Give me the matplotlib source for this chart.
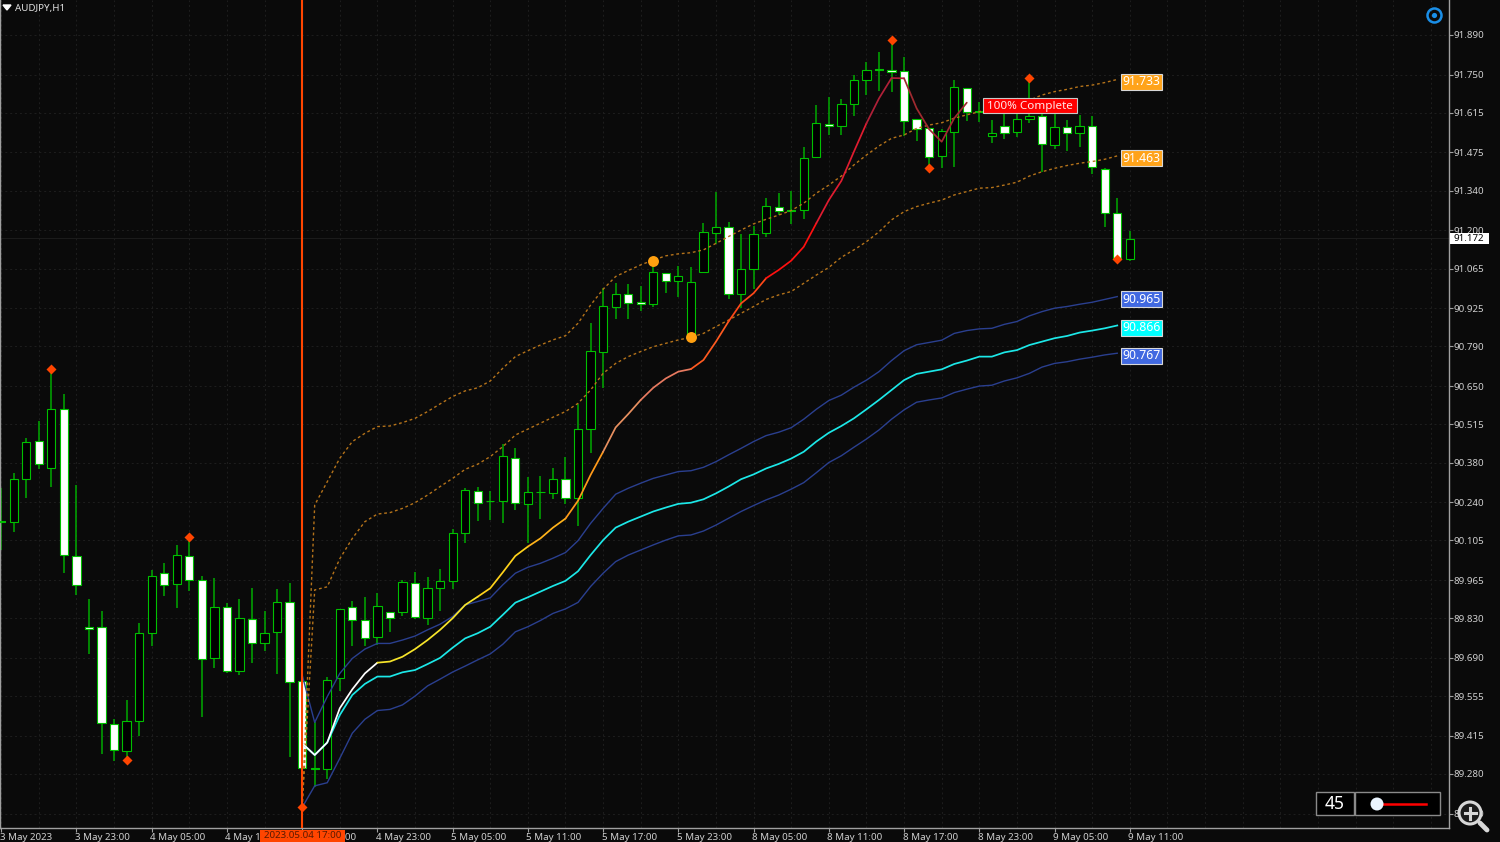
import numpy as np
import matplotlib
matplotlib.use("Agg")
import matplotlib.pyplot as plt
from matplotlib.patches import Rectangle, Circle, Polygon
from matplotlib.transforms import ScaledTranslation

plt.rcParams['font.family'] = ['Noto Sans', 'DejaVu Sans']

# AUDJPY H1 candles, one value per bar
opens = [90.173, 90.169, 90.321, 90.456, 90.359, 90.570, 90.050, 89.799, 89.800, 89.455,
         89.362, 89.466, 89.777, 89.989, 89.950, 90.050, 89.964, 89.688, 89.870, 89.642,
         89.828, 89.742, 89.781, 89.886, 89.608, 89.301, 89.296, 89.618, 89.870, 89.823,
         89.763, 89.851, 89.853, 89.953, 89.831, 89.938, 89.962, 90.130, 90.280, 90.245,
         90.243, 90.397, 90.235, 90.277, 90.274, 90.321, 90.254, 90.500, 90.772, 90.928,
         90.975, 90.947, 90.939, 91.051, 91.020, 90.822, 91.053, 91.191, 91.212, 90.975,
         91.062, 91.190, 91.284, 91.272, 91.271, 91.459, 91.576, 91.570, 91.648, 91.732,
         91.769, 91.765, 91.763, 91.592, 91.560, 91.462, 91.547, 91.704, 91.621, 91.533,
         91.570, 91.546, 91.592, 91.605, 91.503, 91.564, 91.544, 91.570, 91.418, 91.260,
         91.100]
closes = [90.169, 90.321, 90.454, 90.374, 90.570, 90.053, 89.947, 89.792, 89.459, 89.365,
          89.466, 89.777, 89.980, 89.947, 90.054, 89.964, 89.685, 89.871, 89.644, 89.832,
          89.742, 89.779, 89.888, 89.605, 89.300, 89.299, 89.613, 89.864, 89.824, 89.759,
          89.874, 89.832, 89.959, 89.836, 89.937, 89.962, 90.132, 90.282, 90.237, 90.243,
          90.403, 90.238, 90.276, 90.275, 90.321, 90.254, 90.500, 90.774, 90.932, 90.975,
          90.942, 90.940, 91.054, 91.020, 91.040, 91.016, 91.194, 91.212, 90.975, 91.064,
          91.186, 91.287, 91.270, 91.270, 91.457, 91.578, 91.570, 91.648, 91.732, 91.768,
          91.767, 91.758, 91.586, 91.557, 91.459, 91.552, 91.705, 91.617, 91.619, 91.543,
          91.544, 91.592, 91.605, 91.504, 91.564, 91.543, 91.570, 91.424, 91.260, 91.098,
          91.171]
highs = [90.291, 90.344, 90.465, 90.527, 90.710, 90.621, 90.299, 89.899, 89.854, 89.473,
         89.542, 89.813, 90.000, 90.024, 90.087, 90.118, 89.979, 89.973, 89.883, 89.899,
         89.937, 89.854, 89.934, 89.953, 89.608, 89.465, 89.624, 89.864, 89.890, 89.904,
         89.918, 89.851, 89.965, 89.993, 89.976, 90.003, 90.145, 90.289, 90.295, 90.281,
         90.446, 90.433, 90.328, 90.333, 90.361, 90.398, 90.587, 90.874, 90.995, 91.015,
         91.009, 91.002, 91.093, 91.051, 91.074, 91.071, 91.226, 91.335, 91.230, 91.187,
         91.215, 91.316, 91.333, 91.339, 91.496, 91.643, 91.670, 91.663, 91.748, 91.795,
         91.829, 91.872, 91.811, 91.592, 91.560, 91.557, 91.731, 91.704, 91.655, 91.590,
         91.613, 91.613, 91.738, 91.613, 91.613, 91.590, 91.606, 91.603, 91.420, 91.316,
         91.198]
lows = [90.071, 90.135, 90.256, 90.358, 90.295, 89.991, 89.913, 89.702, 89.349, 89.327,
        89.329, 89.415, 89.731, 89.910, 89.866, 89.927, 89.482, 89.655, 89.638, 89.628,
        89.672, 89.714, 89.634, 89.341, 89.164, 89.235, 89.261, 89.573, 89.732, 89.733,
        89.735, 89.783, 89.838, 89.827, 89.807, 89.857, 89.932, 90.095, 90.172, 90.176,
        90.165, 90.211, 90.095, 90.181, 90.250, 90.234, 90.156, 90.413, 90.642, 90.888,
        90.888, 90.914, 90.931, 90.980, 90.966, 90.813, 91.048, 91.152, 90.958, 90.926,
        90.992, 91.178, 91.253, 91.224, 91.240, 91.454, 91.538, 91.538, 91.604, 91.679,
        91.692, 91.690, 91.533, 91.517, 91.419, 91.419, 91.425, 91.587, 91.583, 91.507,
        91.524, 91.529, 91.580, 91.407, 91.489, 91.480, 91.494, 91.400, 91.213, 91.084,
        91.093]

# indicator lines, all start at the anchored bar
anchor = 24
center = [89.388, 89.347, 89.391, 89.512, 89.579, 89.635, 89.673, 89.677, 89.694, 89.721,
          89.753, 89.789, 89.830, 89.877, 89.906, 89.936, 89.992, 90.050, 90.083, 90.112,
          90.150, 90.182, 90.245, 90.336, 90.418, 90.504, 90.551, 90.601, 90.644, 90.677,
          90.701, 90.710, 90.742, 90.807, 90.878, 90.942, 90.978, 91.031, 91.060, 91.093,
          91.142, 91.225, 91.307, 91.375, 91.478, 91.578, 91.666, 91.738, 91.737, 91.631,
          91.557, 91.513, 91.596, 91.651]
mid = [89.388, 89.347, 89.391, 89.488, 89.559, 89.598, 89.624, 89.624, 89.639, 89.647,
       89.668, 89.690, 89.726, 89.759, 89.777, 89.800, 89.842, 89.885, 89.904, 89.924,
       89.944, 89.962, 89.996, 90.053, 90.106, 90.150, 90.171, 90.189, 90.207, 90.221,
       90.234, 90.238, 90.250, 90.271, 90.295, 90.321, 90.338, 90.359, 90.375, 90.394,
       90.418, 90.454, 90.485, 90.509, 90.536, 90.568, 90.601, 90.636, 90.671, 90.693,
       90.701, 90.709, 90.728, 90.740, 90.754, 90.754, 90.769, 90.777, 90.795, 90.807,
       90.819, 90.827, 90.839, 90.846, 90.854, 90.864]
upper_blue = [89.630, 89.462, 89.553, 89.635, 89.688, 89.721, 89.741, 89.741, 89.753, 89.767,
              89.789, 89.809, 89.836, 89.877, 89.889, 89.902, 89.948, 89.989, 90.010, 90.024,
              90.042, 90.062, 90.104, 90.165, 90.218, 90.268, 90.289, 90.307, 90.324, 90.336,
              90.348, 90.351, 90.363, 90.383, 90.407, 90.430, 90.454, 90.475, 90.487, 90.503,
              90.533, 90.568, 90.599, 90.618, 90.646, 90.671, 90.701, 90.740, 90.775, 90.796,
              90.804, 90.812, 90.836, 90.846, 90.852, 90.854, 90.868, 90.878, 90.898, 90.913,
              90.925, 90.931, 90.939, 90.946, 90.956, 90.966]
lower_blue = [89.162, 89.238, 89.249, 89.335, 89.424, 89.473, 89.504, 89.508, 89.524, 89.555,
              89.591, 89.615, 89.640, 89.661, 89.683, 89.704, 89.738, 89.782, 89.800, 89.822,
              89.847, 89.863, 89.886, 89.942, 89.989, 90.030, 90.053, 90.071, 90.089, 90.106,
              90.121, 90.124, 90.138, 90.159, 90.183, 90.207, 90.228, 90.248, 90.265, 90.286,
              90.309, 90.344, 90.380, 90.404, 90.434, 90.463, 90.495, 90.533, 90.566, 90.593,
              90.601, 90.608, 90.627, 90.639, 90.650, 90.653, 90.668, 90.679, 90.695, 90.717,
              90.730, 90.736, 90.745, 90.752, 90.760, 90.766]
upper_orange = [89.162, 90.230, 90.312, 90.395, 90.454, 90.483, 90.507, 90.509, 90.521, 90.536,
                90.560, 90.587, 90.613, 90.633, 90.644, 90.668, 90.713, 90.754, 90.775, 90.795,
                90.813, 90.828, 90.872, 90.936, 90.992, 91.037, 91.058, 91.078, 91.095, 91.110,
                91.117, 91.121, 91.131, 91.154, 91.178, 91.201, 91.223, 91.239, 91.254, 91.270,
                91.296, 91.331, 91.360, 91.392, 91.431, 91.466, 91.498, 91.525, 91.537, 91.560,
                91.572, 91.580, 91.596, 91.608, 91.619, 91.631, 91.639, 91.649, 91.660, 91.678,
                91.690, 91.698, 91.708, 91.713, 91.722, 91.733]
lower_orange = [89.162, 89.930, 89.941, 90.040, 90.112, 90.171, 90.198, 90.203, 90.218, 90.238,
                90.265, 90.295, 90.324, 90.356, 90.374, 90.401, 90.436, 90.477, 90.498, 90.519,
                90.540, 90.560, 90.589, 90.636, 90.695, 90.730, 90.754, 90.772, 90.789, 90.801,
                90.813, 90.822, 90.836, 90.860, 90.883, 90.907, 90.931, 90.956, 90.972, 90.984,
                91.013, 91.042, 91.069, 91.105, 91.131, 91.160, 91.195, 91.237, 91.266, 91.284,
                91.296, 91.307, 91.325, 91.337, 91.349, 91.351, 91.360, 91.370, 91.392, 91.407,
                91.419, 91.429, 91.437, 91.443, 91.451, 91.463]

# signal markers
diamond_idx = [4, 10, 15, 24, 71, 74, 82, 89]
diamond_px = [90.710, 89.329, 90.118, 89.164, 91.872, 91.419, 91.738, 91.098]
dot_idx = [52, 55]
dot_px = [91.093, 90.822]

# right hand level tags
tag_text = ['91.733', '91.463', '90.965', '90.866', '90.767']
tag_px = [91.733, 91.463, 90.966, 90.864, 90.766]
tag_col = ['#ffa31a', '#ffa31a', '#4169e1', '#00ffff', '#4169e1']

last_price = 91.172

price_ticks = [91.890, 91.750, 91.615, 91.475, 91.340, 91.200, 91.065, 90.925, 90.790, 90.650,
               90.515, 90.380, 90.240, 90.105, 89.965, 89.830, 89.690, 89.555, 89.415, 89.280,
               89.140]
date_idx = list(range(0, 91, 6))
date_labels = ['3 May 2023', '3 May 23:00', '4 May 05:00', '4 May 11:00', '4 May 17:00',
               '4 May 23:00', '5 May 05:00', '5 May 11:00', '5 May 17:00', '5 May 23:00',
               '8 May 05:00', '8 May 11:00', '8 May 17:00', '8 May 23:00', '9 May 05:00',
               '9 May 11:00']

# colour of the center line, as (number of segments, colour)
center_runs = [(6, '#ffffff'), (8, '#f7e52a'), (4, '#ffd21a'), (3, '#ffb31a'), (3, '#ff9a1a'),
               (3, '#e89060'), (4, '#e87a60'), (3, '#ff5a20'), (3, '#ff4818'), (4, '#ff1010'),
               (4, '#e01c30'), (3, '#b02038'), (5, '#a02a30')]

BG = '#0a0a0a'
GREEN = '#00aa00'
AXIS = '#a0a0a0'
TXT = '#cfcfcf'

fig = plt.figure(figsize=(15, 8.42), dpi=100, facecolor=BG)
ax = fig.add_axes([0, 14 / 842, 1449 / 1500, 828 / 842], facecolor=BG)
ax.set_xlim(-0.0957, 115.455)
ax.set_ylim(89.0891, 92.0136)

ax.set_xticks(date_idx)
ax.set_xticklabels(date_labels, ha='left', fontsize=7, color=TXT)
ax.set_xticks(np.arange(0, 116, 3), minor=True)
ax.yaxis.tick_right()
ax.set_yticks(price_ticks)
ax.set_yticklabels([f'{p:.3f}' for p in price_ticks], fontsize=7, color=TXT)
ax.tick_params(axis='both', which='major', color=AXIS, length=3, width=0.8, pad=0.5)
ax.tick_params(axis='x', which='minor', length=0)
# date labels sit a touch left of their tick
shift = ScaledTranslation(-1.5 / 100, 0, fig.dpi_scale_trans)
for lab in ax.get_xticklabels():
    lab.set_transform(lab.get_transform() + shift)
ax.grid(True, which='both', color='#1e1e1e', lw=0.7, linestyle=(0, (2, 3)))
ax.set_axisbelow(True)
ax.spines['top'].set_visible(False)
for name in ['left', 'right', 'bottom']:
    ax.spines[name].set_color(AXIS)
    ax.spines[name].set_linewidth(1.0)

ax.axhline(last_price, color='#1c1c1c', lw=0.7, zorder=1)

# candles
idx = np.arange(len(opens))
o = np.array(opens)
c = np.array(closes)
ax.vlines(idx, lows, highs, color=GREEN, lw=1.1, zorder=2)
faces = ['white' if cl < op else 'black' for op, cl in zip(opens, closes)]
ax.bar(idx, np.abs(c - o), bottom=np.minimum(o, c), width=0.66, color=faces,
       edgecolor='#00c000', linewidth=0.8, zorder=3)

# indicator lines
for vals, col, lw in [(upper_blue, '#2a3f8f', 1.0), (lower_blue, '#2a3f8f', 1.0), (mid, '#1ce8e8', 1.25)]:
    ax.plot(np.arange(anchor, anchor + len(vals)), vals, color=col, lw=lw, zorder=4)
for vals in (upper_orange, lower_orange):
    ax.plot(np.arange(anchor, anchor + len(vals)), vals, color='#b5731a', lw=1.0,
            linestyle=(0, (2, 2)), zorder=4)

seg = 0
for n, col in center_runs:
    xs = np.arange(anchor + seg, anchor + seg + n + 1)
    ax.plot(xs, center[seg:seg + n + 1], color=col, lw=1.25, zorder=5, solid_capstyle='round')
    seg += n

ax.axvline(anchor, color='#ff4500', lw=1.5, zorder=6)
ax.scatter(diamond_idx, diamond_px, marker='D', s=26, color='#ff4500', zorder=7, linewidths=0)
ax.scatter(dot_idx, dot_px, marker='o', s=62, color='#ffa010', zorder=7, linewidths=0)

for txt, p, col in zip(tag_text, tag_px, tag_col):
    ax.annotate(txt, xy=(89, p), xytext=(5, -2.5), textcoords='offset pixels', va='center', ha='left',
                fontsize=8.8, color='white', zorder=8,
                bbox=dict(boxstyle='square,pad=0.12', fc=col, ec='#d8d8d8', lw=0.8))

# screen overlay in pixels for the terminal widgets
ui = fig.add_axes([0, 0, 1, 1], facecolor='none')
ui.set_xlim(0, 1500)
ui.set_ylim(842, 0)
ui.axis('off')

ui.add_patch(Polygon([(3, 5), (11, 5), (7, 10)], color='white'))
ui.text(15, 8.5, 'AUDJPY,H1', fontsize=7, color='#e0e0e0', va='center', ha='left')

# date box on the time axis
ui.add_patch(Rectangle((260, 830), 85, 12, fc='#ff4500', ec='none'))
ui.text(302.5, 836, '2023.05.04 17:00', fontsize=7, color='#5a1a00', va='center', ha='center')

# last price tag
ui.add_patch(Rectangle((1450, 233), 39, 11, fc='white', ec='none'))
ui.text(1453, 238.5, f'{last_price:.3f}', fontsize=7, color='black', va='center', ha='left')

ui.add_patch(Rectangle((983, 98), 94, 15, fc='#ff0000', ec='#c8c8c8', lw=0.8, zorder=5))
ui.text(1030, 106, '100% Complete', fontsize=8.4, color='#ffe8e8', va='center', ha='center', zorder=6)

# target button
ui.add_patch(Circle((1434.5, 15.5), 7, fc='none', ec='#1a8fe8', lw=1.8))
ui.add_patch(Circle((1434.5, 15.5), 2.6, fc='#1a8fe8', ec='none'))

# zoom slider
ui.add_patch(Rectangle((1316, 792), 38, 23, fc='black', ec='#8a8a8a', lw=1.0))
ui.add_patch(Rectangle((1355, 792), 85, 23, fc='black', ec='#8a8a8a', lw=1.0))
ui.text(1335, 804, '45', fontsize=12.6, color='white', va='center', ha='center')
ui.plot([1381, 1426], [804, 804], color='#ff0000', lw=1.8)
ui.add_patch(Circle((1377, 804), 6.5, fc='#eaf4ff', ec='none', zorder=5))

# magnifier
ui.plot([1480, 1487], [823, 830], color='#d8d8d8', lw=3.5, solid_capstyle='round')
ui.add_patch(Circle((1470, 813), 11, fc='#1c1c1c', ec='#d8d8d8', lw=2.2, zorder=5))
ui.plot([1464.5, 1475.5], [813, 813], color='#d8d8d8', lw=2.2, zorder=6)
ui.plot([1470, 1470], [807.5, 818.5], color='#d8d8d8', lw=2.2, zorder=6)

fig.savefig('out.png', dpi=100, facecolor=BG)
